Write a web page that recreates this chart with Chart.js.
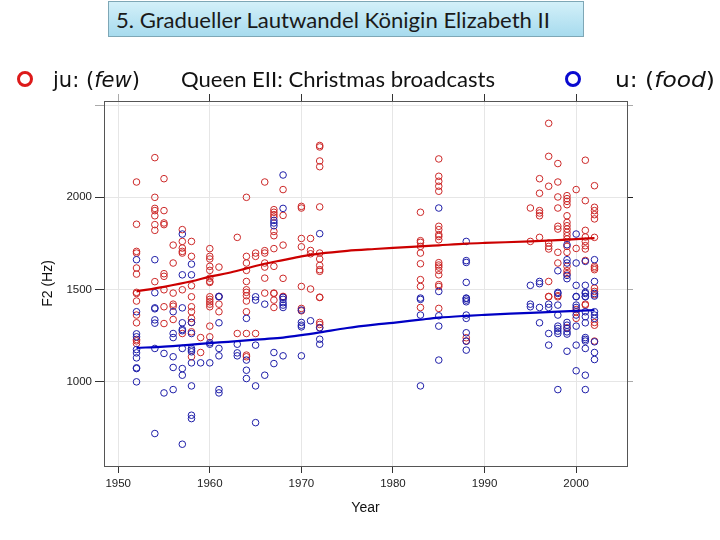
<!DOCTYPE html>
<html>
<head>
<meta charset="utf-8">
<script src="https://cdn.jsdelivr.net/npm/chart.js@4.4.1/dist/chart.umd.min.js"></script>
<style>
  html, body { margin: 0; padding: 0; background: #fff; }
  #wrap { position: relative; width: 720px; height: 540px; overflow: hidden; }
  #chart { position: absolute; left: 0; top: 0; }
  .fit { position: absolute; white-space: nowrap; line-height: 1; transform-origin: 0 50%; color: #111; }
  #title-box {
    position: absolute; left: 108px; top: 1px; width: 476px; height: 36px; box-sizing: border-box;
    border: 1px solid #7ea7b6; background: linear-gradient(#d3f0f9, #a7dbee);
  }
  .ring { position: absolute; width: 10px; height: 10px; border-radius: 50%; border: 3px solid; }
</style>
</head>
<body>
<div id="wrap">
  <canvas id="chart" width="720" height="540"></canvas>
  <div id="title-box"></div>
  <div class="fit" style="left:116px; top:7px; font:21px Lato; color:#1a1a1a" data-w="434">5. Gradueller Lautwandel Königin Elizabeth II</div>
  <div class="ring" style="left:17px; top:71px; border-color:#dd1a1a"></div>
  <div class="fit" style="left:53px; top:68px; font:21px 'DejaVu Sans'" data-w="87">ju: (<i>few</i>)</div>
  <div class="fit" style="left:181px; top:66px; font:21px Lato" data-w="314">Queen EII: Christmas broadcasts</div>
  <div class="ring" style="left:565px; top:71px; border-color:#0a0ad0"></div>
  <div class="fit" style="left:615px; top:68px; font:21px 'DejaVu Sans'" data-w="100">u: (<i>food</i>)</div>
</div>
<script>
// Axes
const xTicks = [1950, 1960, 1970, 1980, 1990, 2000];
const yTicks = [1000, 1500, 2000, 2500];
const yLabelled = [1000, 1500, 2000];
const xRange = [1948.45, 2005.55];
const yRange = [544, 2522];

// Broadcast years
const years = [1952, 1954, 1955, 1956, 1957, 1958, 1959, 1960, 1961, 1963, 1964, 1965, 1966, 1967, 1968,
  1970, 1971, 1972, 1983, 1985, 1988, 1995, 1996, 1997, 1998, 1999, 2000, 2001, 2002];

// F2 (Hz) per year, ju: (few)
const juF2 = [
  [2083, 1854, 1707, 1698, 1617, 1584, 1485, 1479, 1438, 1362, 1320, 1230, 1222, 1208],
  [2215, 2000, 1940, 1928, 1900, 1852, 1821, 1543],
  [2101, 1928, 1861, 1852, 1586, 1572, 1499, 1407, 1316],
  [1741, 1644, 1481, 1421, 1410, 1338],
  [1825, 1761, 1725, 1707, 1698, 1499, 1262],
  [1761, 1680, 1521, 1461, 1407, 1380, 1344, 1322, 1271, 1136],
  [1240, 1159],
  [1722, 1680, 1666, 1626, 1604, 1562, 1544, 1539, 1461, 1447, 1434, 1421, 1407, 1302, 1244],
  [1622, 1463, 1421, 1380],
  [1783, 1262],
  [2000, 1680, 1644, 1604, 1544, 1499, 1485, 1467, 1438, 1380, 1262, 1145, 1136],
  [1698, 1680, 1262],
  [2083, 1711, 1698, 1644, 1622, 1562, 1481],
  [1933, 1919, 1906, 1893, 1815, 1792, 1722, 1626, 1481, 1479, 1443, 1403],
  [2042, 1902, 1741, 1561, 1463, 1461],
  [1951, 1942, 1777, 1732, 1517, 1398, 1385],
  [1777, 1712, 1694, 1503],
  [2281, 2273, 2197, 2166, 1948, 1698, 1666, 1631, 1608, 1599, 1459, 1457, 1322, 1311, 1294],
  [1919, 1765, 1756, 1734, 1698, 1640, 1554, 1517, 1403],
  [2208, 2114, 2087, 2060, 2033, 1843, 1825, 1798, 1788, 1770, 1646, 1633, 1622, 1604, 1580, 1527, 1517, 1398],
  [1239, 1222],
  [1942, 1761],
  [2101, 2022, 1928, 1915, 1900, 1783],
  [2401, 2222, 2060, 1752, 1734, 1720, 1544, 1463, 1461],
  [2183, 2083, 2002, 1942, 1843, 1828, 1702, 1644, 1467, 1461],
  [2009, 1993, 1978, 1960, 1900, 1864, 1846, 1828, 1810, 1792, 1774, 1734, 1702, 1626, 1602, 1586, 1293],
  [2042, 1723, 1392, 1380, 1344],
  [2201, 1982, 1821, 1785, 1761, 1738, 1720, 1658, 1421, 1416],
  [2063, 1946, 1928, 1906, 1883, 1783, 1626, 1617, 1608, 1508, 1490, 1472, 1322, 1307, 1221]
];

// F2 (Hz) per year, u: (food)
const uF2 = [
  [1662, 1380, 1260, 1244, 1175, 1157, 1130, 1076, 1072, 1000],
  [1662, 1483, 1401, 1396, 1336, 1318, 1181, 720],
  [1154, 940],
  [1380, 1262, 1240, 1136, 1078, 958],
  [1801, 1580, 1401, 1320, 1284, 1277, 1181, 1072, 1036, 662],
  [1638, 1580, 1322, 1262, 1181, 1172, 1163, 1103, 978, 819, 801],
  [1103],
  [1212, 1204, 1103],
  [1463, 1461, 1320, 1181, 1141, 958, 940],
  [1204, 1157, 1141],
  [1344, 1118, 1063, 1018],
  [1461, 1443, 1199, 978, 779],
  [1421, 1036],
  [1875, 1861, 1846, 1159, 1099],
  [2121, 1940, 1458, 1447, 1429, 1416, 1403, 1141],
  [1389, 1322, 1307, 1298, 1141],
  [1331],
  [1803, 1293, 1231, 1204],
  [1454, 1447, 1362, 978],
  [1942, 1490, 1358, 1302, 1118],
  [1761, 1657, 1647, 1539, 1454, 1452, 1443, 1434, 1362, 1344, 1266, 1220, 1172],
  [1523, 1421, 1407],
  [1544, 1532, 1403, 1320],
  [1421, 1403, 1262, 1199],
  [1602, 1485, 1479, 1416, 1362, 1302, 1289, 1275, 1262, 958],
  [1743, 1662, 1644, 1577, 1559, 1322, 1307, 1289, 1271, 1259, 1166],
  [1801, 1644, 1523, 1463, 1461, 1416, 1403, 1362, 1302, 1199, 1060],
  [1653, 1523, 1485, 1479, 1463, 1461, 1380, 1353, 1320, 1240, 1230, 1221, 1181, 1036, 958],
  [1662, 1544, 1479, 1465, 1380, 1362, 1344, 1217, 1159, 1121]
];

// Smoothed trend lines
const smoothYears = [1952, 1955, 1958, 1960, 1962, 1964, 1966, 1968, 1970, 1972, 1975, 1978, 1980,
  1983, 1985, 1988, 1990, 1995, 1998, 2000, 2002];
const juSmooth = [1490, 1515, 1545, 1570, 1590, 1615, 1640, 1660, 1680, 1695, 1710, 1720, 1726,
  1734, 1740, 1749, 1753, 1761, 1768, 1774, 1779];
const uSmooth = [1184, 1191, 1202, 1210, 1217, 1225, 1232, 1240, 1253, 1268, 1292, 1310, 1320,
  1337, 1348, 1358, 1363, 1374, 1381, 1385, 1389];

const juColor = 'rgb(204, 40, 40)';
const uColor = 'rgb(30, 30, 168)';
const frameColor = '#555';
const gridColor = '#e6e6e6';
const tickFont = { family: 'Liberation Sans', size: 11.5 };
const titleFont = { family: 'Liberation Sans', size: 14 };

function toPoints(groups) {
    return years.flatMap((yr, i) => groups[i].map(v => ({ x: yr, y: v })));
}

function toLine(values) {
    return smoothYears.map((yr, i) => ({ x: yr, y: values[i] }));
}

function setTicks(values) {
    return scale => { scale.ticks = values.map(v => ({ value: v })); };
}

function fixSize(prop, size) {
    return scale => { scale[prop] = size; };
}

// Header texts: stretch to the widths of the slide
document.querySelectorAll('.fit').forEach(el => {
    const w = el.getBoundingClientRect().width;
    el.style.transform = 'scaleX(' + (el.dataset.w / w) + ')';
});

new Chart(document.getElementById('chart'), {
    type: 'scatter',
    data: {
        datasets: [
            { type: 'line', data: toLine(juSmooth), borderColor: '#cc0000', borderWidth: 2.2,
              pointRadius: 0, cubicInterpolationMode: 'monotone', fill: false },
            { type: 'line', data: toLine(uSmooth), borderColor: '#0000c4', borderWidth: 2.2,
              pointRadius: 0, cubicInterpolationMode: 'monotone', fill: false },
            { label: 'u: (food)', data: toPoints(uF2), pointRadius: 3.3, borderWidth: 1,
              borderColor: uColor, backgroundColor: 'rgba(0,0,0,0)' },
            { label: 'ju: (few)', data: toPoints(juF2), pointRadius: 3.3, borderWidth: 1,
              borderColor: juColor, backgroundColor: 'rgba(0,0,0,0)' }
        ]
    },
    options: {
        responsive: false,
        animation: false,
        layout: { padding: 0 },
        plugins: { legend: { display: false }, tooltip: { enabled: false } },
        scales: {
            x: {
                type: 'linear', position: 'bottom', min: xRange[0], max: xRange[1],
                afterBuildTicks: setTicks(xTicks),
                afterFit: fixSize('height', 74),
                grid: { color: gridColor, tickLength: 7, tickColor: '#333' },
                border: { color: frameColor },
                ticks: { font: tickFont, color: '#222', padding: 4, autoSkip: false, maxRotation: 0,
                         callback: v => String(v) },
                title: { display: true, text: 'Year', font: titleFont, color: '#111', padding: { bottom: 23 } }
            },
            x2: {
                type: 'linear', position: 'top', min: xRange[0], max: xRange[1],
                afterBuildTicks: setTicks(xTicks),
                afterFit: fixSize('height', 101),
                grid: { drawOnChartArea: false, tickLength: 7,
                        tickColor: c => c.tick && c.tick.value === 1950 ? '#aaa' : '#333' },
                border: { color: frameColor },
                ticks: { display: false }
            },
            y: {
                type: 'linear', position: 'left', min: yRange[0], max: yRange[1],
                afterBuildTicks: setTicks(yTicks),
                afterFit: fixSize('width', 104),
                grid: { color: gridColor, tickLength: 9,
                        tickColor: c => c.tick && c.tick.value === 2500 ? '#aaa' : '#333' },
                border: { color: frameColor },
                ticks: { font: tickFont, color: '#222', padding: 3, autoSkip: false,
                         callback: v => yLabelled.includes(v) ? String(v) : '' },
                title: { display: true, text: 'F2 (Hz)', font: titleFont, color: '#111', padding: { top: 40 } }
            },
            y2: {
                type: 'linear', position: 'right', min: yRange[0], max: yRange[1],
                afterBuildTicks: setTicks(yTicks),
                afterFit: fixSize('width', 93),
                grid: { drawOnChartArea: false, tickLength: 6,
                        tickColor: c => c.tick && c.tick.value === 2000 ? '#222' : '#aaa' },
                border: { color: frameColor },
                ticks: { display: false }
            }
        }
    }
});
</script>
</body>
</html>
